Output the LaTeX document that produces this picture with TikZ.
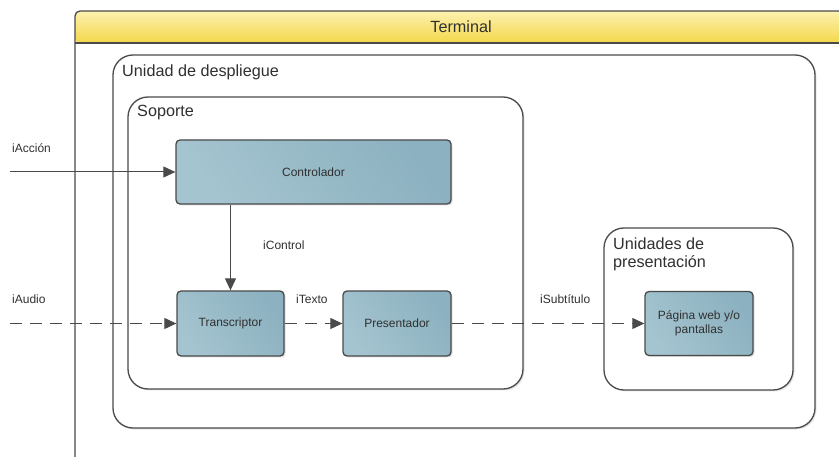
\documentclass[tikz,border=0pt]{standalone}
\usepackage{fontspec}
\setmainfont{Liberation Sans}
\usetikzlibrary{arrows.meta,shadows}

\definecolor{edge}{HTML}{4A4A4A}
\definecolor{ink}{HTML}{303030}
\definecolor{boxlight}{HTML}{A4C4CF}
\definecolor{boxdark}{HTML}{8CB1C0}
\definecolor{hdrtop}{HTML}{FCF1B0}
\definecolor{hdrbot}{HTML}{F4D74A}

\tikzset{
  comp/.style={draw=edge, line width=1.3pt, rounded corners=4pt,
    left color=boxlight, right color=boxdark, shading angle=125,
    drop shadow={opacity=0.25, shadow xshift=1.5pt, shadow yshift=-1.5pt},
    text=ink, font=\fontsize{12}{14}\selectfont, align=center, inner sep=0pt},
  frame/.style={draw=edge, line width=1.3pt, rounded corners=20pt, fill=white,
    drop shadow={opacity=0.2, shadow xshift=1.5pt, shadow yshift=-1.5pt},
    inner sep=0pt},
  title/.style={text=ink, font=\fontsize{16.2}{18}\selectfont, align=left, inner sep=0pt},
  flabel/.style={text=ink, font=\fontsize{12}{14}\selectfont, inner sep=0pt},
  flow/.style={draw=edge, line width=1pt, -{Triangle[length=12pt,width=11pt]}},
  dflow/.style={flow, dash pattern=on 12pt off 8pt},
}

\begin{document}
\begin{tikzpicture}[x=1pt,y=-1pt]
  \useasboundingbox (0,0) rectangle (839,457);

  % Terminal frame with its yellow header bar
  \shade[top color=hdrtop, bottom color=hdrbot, rounded corners=5pt]
    (75,43) -- (75,11) -- (860,11) -- (860,43) -- cycle;
  \draw[edge, line width=1.3pt, rounded corners=5pt] (75,457) -- (75,11) -- (860,11);
  \draw[edge, line width=1.3pt] (75,43) -- (860,43);
  \node[flabel, font=\fontsize{16.2}{18}\selectfont] (term) at (461,27) {Terminal};

  % Containers
  \node[frame, minimum width=702pt, minimum height=373pt] (unidad) at (464,241.5) {};
  \node[title, anchor=west] (unidadlbl) at (122,72) {Unidad de despliegue};

  \node[frame, minimum width=395pt, minimum height=292pt] (soporte) at (325.5,243) {};
  \node[title, anchor=west] (soportelbl) at (137,113) {Soporte};

  \node[frame, minimum width=189pt, minimum height=162pt] (upres) at (698.5,309) {};
  \node[title, anchor=north west] (upreslbl) at (613,238) {Unidades de\\presentación};

  % Components
  \node[comp, minimum width=275pt, minimum height=64pt] (ctrl) at (313.5,172) {Controlador};
  \node[comp, minimum width=107pt, minimum height=65pt] (trans) at (230.5,323.5) {Transcriptor};
  \node[comp, minimum width=108pt, minimum height=65pt] (pres) at (397,323.5) {Presentador};
  \node[comp, minimum width=108pt, minimum height=64pt] (web) at (699,323.5) {Página web y/o\\pantallas};

  % Free ends of the incoming interfaces
  \coordinate (inAccion) at (10,172);
  \coordinate (inAudio) at (10,323.5);

  % Connectors
  \draw[flow] (inAccion) -- (ctrl.west);
  \draw[flow] (ctrl.south -| trans.north) -- (trans.north);
  \draw[dflow] (inAudio) -- (trans.west);
  \draw[dflow] (trans.east) -- (pres.west);
  \draw[dflow] (pres.east) -- (web.west);

  % Interface labels
  \node[flabel, anchor=west] (lAccion) at (12,148) {iAcción};
  \node[flabel, anchor=west] (lControl) at (263,245) {iControl};
  \node[flabel, anchor=west] (lAudio) at (12,299) {iAudio};
  \node[flabel, anchor=west] (lTexto) at (296,299) {iTexto};
  \node[flabel, anchor=west] (lSub) at (540,299) {iSubtítulo};
\end{tikzpicture}
\end{document}
